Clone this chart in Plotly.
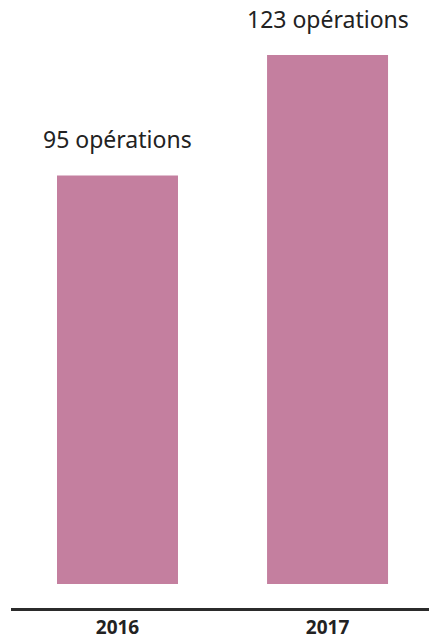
import plotly.graph_objects as go

years = ["2016", "2017"]
operations = [95, 123]
labels = ["95 opérations", "123 opérations"]

BAR_COLOR = "#C47F9F"

fig = go.Figure()
fig.add_trace(go.Bar(
    x=years, y=operations,
    marker=dict(color=BAR_COLOR, line=dict(width=0)),
    hoverinfo="skip",
))

for i, (val, lab) in enumerate(zip(operations, labels)):
    fig.add_annotation(
        x=i, y=val, xref="x", yref="y", text=lab, showarrow=False,
        xanchor="center", yanchor="bottom", yshift=19, borderpad=0,
        font=dict(family="Noto Sans", size=23, color="#222222"),
    )

fig.update_layout(
    width=429, height=640,
    margin=dict(l=11, r=0, t=55, b=32, autoexpand=False),
    paper_bgcolor="white", plot_bgcolor="white",
    bargap=0.424,
    showlegend=False,
    xaxis=dict(
        type="category", range=[-0.507, 1.483],
        showline=True, linecolor="#2b2b2b", linewidth=2.5,
        showgrid=False, zeroline=False, ticks="",
        tickfont=dict(family="Open Sans", size=19, color="#222222", weight="bold"),
        ticklabelstandoff=1,
        automargin=False,
    ),
    yaxis=dict(
        range=[-5.58, 123], visible=False, showgrid=False, zeroline=False,
    ),
)

fig.write_html(
    "out.html",
    config={"displayModeBar": False, "staticPlot": True},
    post_script="document.body.style.margin='0';document.body.style.overflow='hidden';",
)
